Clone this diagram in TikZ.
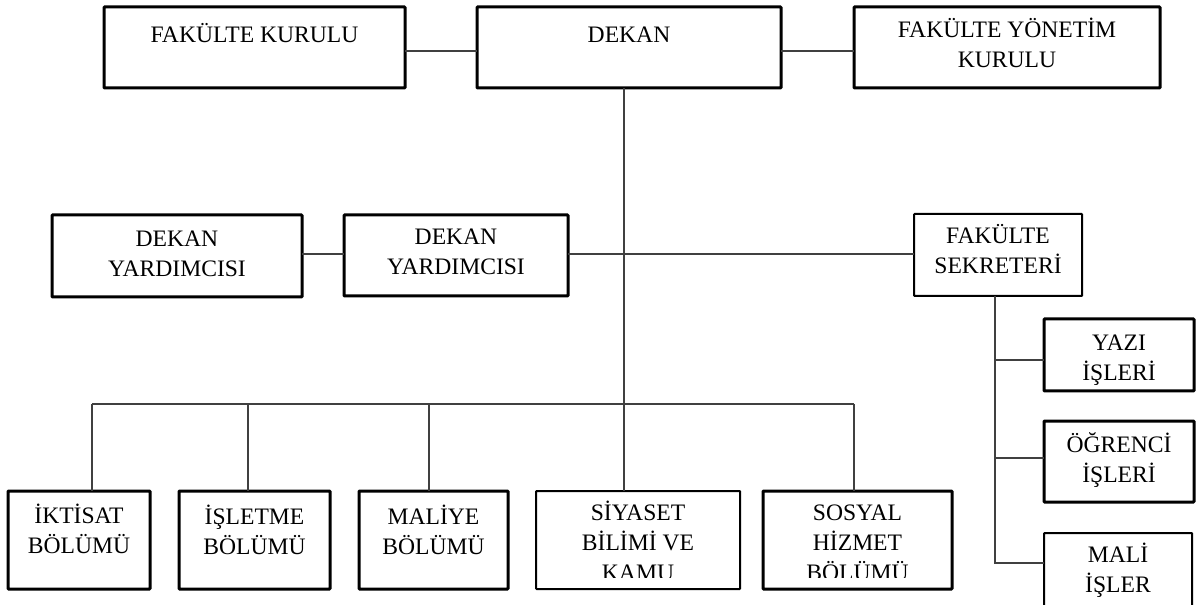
\documentclass[tikz,border=0pt]{standalone}
\usepackage{fontspec}
\setmainfont{Liberation Serif}
\newcommand\boxnode[6]{\node[#2, minimum width={(#5-#3-2)*0.75pt}, minimum height={(#6-#4-2)*0.75pt}] (#1) at ({(#3+#5)/2},{(#4+#6)/2}) {};}
\newcommand\boxtext[4]{\node[txt] (#1) at (#2,{#3-22}) {\rule{0pt}{16.5pt}#4};}
\begin{document}
\begin{tikzpicture}[x=0.75pt,y=-0.75pt,
  thickbox/.style={draw=black, line width=2.25pt, inner sep=0pt, outer sep=0pt, rounded corners=0.6pt},
  thinbox/.style={draw=black, line width=1.5pt, inner sep=0pt, outer sep=0pt, rounded corners=0.5pt},
  txt/.style={font=\fontsize{17.7pt}{22.5pt}\selectfont, align=center, inner sep=0pt, outer sep=0pt, anchor=north, text=black},
  conn/.style={draw=black!75, line width=0.8pt}]
\useasboundingbox (0,0) rectangle (1198,605);
\clip (0,0) rectangle (1198,605);
\fill[white] (0,0) rectangle (1198,605);

% boxes
\boxnode{fk}{thickbox}{103}{6}{406}{89}
\boxnode{dk}{thickbox}{476}{6}{782}{89}
\boxnode{fyk}{thickbox}{853}{6}{1161}{89}
\boxnode{dy1}{thickbox}{51}{214}{303}{298}
\boxnode{dy2}{thickbox}{343}{214}{569}{297}
\boxnode{fs}{thinbox}{913}{213}{1083}{297}
\boxnode{yz}{thickbox}{1043}{318}{1195}{392}
\boxnode{og}{thickbox}{1043}{420}{1195}{503}
\boxnode{ml}{thinbox}{1043}{532}{1193}{622}
\boxnode{ik}{thickbox}{7}{490}{151}{590}
\boxnode{is}{thickbox}{178}{490}{331}{590}
\boxnode{mly}{thickbox}{358}{490}{509}{590}
\boxnode{sy}{thinbox}{535}{490}{741}{590}
\boxnode{ss}{thickbox}{762}{490}{953}{590}

% texts
\boxtext{tfk}{254.5}{43}{FAKÜLTE KURULU}
\boxtext{tdk}{629}{43}{DEKAN}
\boxtext{tfyk}{1007}{38}{FAKÜLTE YÖNETİM\\KURULU}
\boxtext{tdy1}{177}{247}{DEKAN\\YARDIMCISI}
\boxtext{tdy2}{456}{245}{DEKAN\\YARDIMCISI}
\boxtext{tfs}{998}{244}{FAKÜLTE\\SEKRETERİ}
\boxtext{tyz}{1119}{351}{YAZI\\İŞLERİ}
\boxtext{tog}{1119}{452}{ÖĞRENCİ\\İŞLERİ}
\boxtext{tml}{1118}{562}{MALİ\\İŞLER}
\boxtext{tik}{79}{523}{İKTİSAT\\BÖLÜMÜ}
\boxtext{tis}{254.5}{524}{İŞLETME\\BÖLÜMÜ}
\boxtext{tmly}{433.5}{524}{MALİYE\\BÖLÜMÜ}
\begin{scope}
  \clip (537,492) rectangle (739,577);
  \boxtext{tsy}{638}{520}{SİYASET\\BİLİMİ VE\\KAMU}
\end{scope}
\begin{scope}
  \clip (764,492) rectangle (951,577);
  \boxtext{tss}{857.5}{520}{SOSYAL\\HİZMET\\BÖLÜMÜ}
\end{scope}

% connectors
\coordinate (ya) at (0,51);
\draw[conn] (fk.east |- ya) -- (dk.west |- ya);
\draw[conn] (dk.east |- ya) -- (fyk.west |- ya);
\coordinate (vx) at (624,0);
\draw[conn] (vx |- dk.south) -- (vx |- sy.north);
\coordinate (yb) at (0,254);
\draw[conn] (dy1.east |- yb) -- (dy2.west |- yb);
\draw[conn] (dy2.east |- yb) -- (fs.west |- yb);
\coordinate (sx) at (995,0);
\coordinate (b1) at (995,360);
\coordinate (b2) at (995,458);
\coordinate (b3) at (995,563);
\draw[conn] (sx |- fs.south) -- (b3) -- (ml.west |- b3);
\draw[conn] (b1) -- (yz.west |- b1);
\draw[conn] (b2) -- (og.west |- b2);
\coordinate (p1) at (92,404);
\coordinate (p2) at (248,404);
\coordinate (p3) at (429,404);
\coordinate (p5) at (854,404);
\draw[conn] (p1) -- (p5);
\draw[conn] (p1) -- (p1 |- ik.north);
\draw[conn] (p2) -- (p2 |- is.north);
\draw[conn] (p3) -- (p3 |- mly.north);
\draw[conn] (p5) -- (p5 |- ss.north);
\end{tikzpicture}
\end{document}
